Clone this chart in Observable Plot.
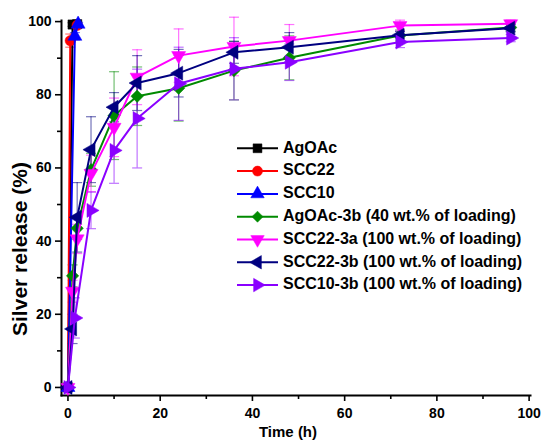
<!DOCTYPE html>
<html><head><meta charset="utf-8">
<script src="https://cdn.jsdelivr.net/npm/d3@7"></script>
<script src="https://cdn.jsdelivr.net/npm/@observablehq/plot@0.6"></script>
<style>
html,body{margin:0;padding:0;background:#fff;}
#chart{position:relative;width:543px;height:442px;}
</style></head><body><div id="chart"></div>
<script>
// ---- data ----
const seriesNames = ["AgOAc","SCC22","SCC10","AgOAc-3b (40 wt.% of loading)","SCC22-3a (100 wt.% of loading)","SCC22-3b (100 wt.% of loading)","SCC10-3b (100 wt.% of loading)"];
const seriesColors = ["#000000","#ff0000","#0000ff","#008a00","#ff00ff","#000080","#8a00ff"];

const tAgOAc = [0, 1, 2];
const vAgOAc = [0, 99.2, 99.3];
const eAgOAc = [0, 0.5, 0.5];

const tSCC22 = [0, 0.5, 2];
const vSCC22 = [0, 94.8, 99];
const eSCC22 = [0, 1.8, 0.5];

const tSCC10 = [0, 1.5, 2.2];
const vSCC10 = [0, 96, 99.3];
const eSCC10 = [0, 1, 0.5];

const tAgOAc3b = [0, 1, 2, 5, 10, 15, 24, 36, 48, 72, 96];
const vAgOAc3b = [0, 30.5, 43.5, 59.5, 74.3, 79.6, 81.8, 86.6, 90.1, 96.2, 98.4];
const eAgOAc3b = [0, 3, 3, 4.5, 12, 8, 9, 8, 6, 1.5, 1];

const tSCC22_3a = [0, 1, 2, 5, 10, 15, 24, 36, 48, 72, 96];
const vSCC22_3a = [0, 26.3, 40.6, 58.5, 71.1, 84.8, 90.7, 93.2, 94.8, 98.9, 99.4];
const eSCC22_3a = [0, 3, 4, 5, 8, 7.5, 7.3, 8, 4.4, 1.5, 1];

const tSCC22_3b = [0, 1, 2, 5, 10, 15, 24, 36, 48, 72, 96];
const vSCC22_3b = [0, 16, 46.5, 65, 76.6, 83.2, 85.9, 91.6, 93, 96.3, 98.2];
const eSCC22_3b = [0, 4, 9.5, 9, 4, 7.5, 6.5, 3, 4, 1, 1];

const tSCC10_3b = [0, 1.5, 5, 10, 15, 24, 36, 48, 72, 96];
const vSCC10_3b = [0, 19, 48.4, 64.8, 73.5, 83, 87.1, 88.9, 94.4, 95.5];
const eSCC10_3b = [0, 5.5, 5, 9, 13.5, 10, 8.5, 5, 1.5, 1];

const xMajorTicks = [0, 20, 40, 60, 80, 100];
const xMinorTicks = [10, 30, 50, 70, 90];
const yMajorTicks = [0, 20, 40, 60, 80, 100];
const yMinorTicks = [10, 30, 50, 70, 90];

// ---- symbols ----
const SQ3 = Math.sqrt(3);
function triangle(angleDeg) {
  const a = angleDeg * Math.PI / 180, c = Math.cos(a), s = Math.sin(a);
  return {draw(ctx, size) {
    const y = -Math.sqrt(size / (SQ3 * 3));
    const pts = [[0, y * 2], [-SQ3 * y, -y], [SQ3 * y, -y]].map(([px, py]) => [px * c - py * s, px * s + py * c]);
    ctx.moveTo(pts[0][0], pts[0][1]); ctx.lineTo(pts[1][0], pts[1][1]); ctx.lineTo(pts[2][0], pts[2][1]); ctx.closePath();
  }};
}
const capSymbol = {draw(ctx, size) { ctx.moveTo(-5, 0); ctx.lineTo(5, 0); }};
const seriesSymbols = [d3.symbolSquare, d3.symbolCircle, triangle(0), d3.symbolDiamond2, triangle(180), triangle(-90), triangle(90)];

const raw = [
  [tAgOAc, vAgOAc, eAgOAc], [tSCC22, vSCC22, eSCC22], [tSCC10, vSCC10, eSCC10],
  [tAgOAc3b, vAgOAc3b, eAgOAc3b], [tSCC22_3a, vSCC22_3a, eSCC22_3a],
  [tSCC22_3b, vSCC22_3b, eSCC22_3b], [tSCC10_3b, vSCC10_3b, eSCC10_3b]
];
const series = raw.map(([t, v, e], i) => t.map((tt, j) => ({t: tt, v: v[j], lo: v[j] - e[j], hi: v[j] + e[j], name: seriesNames[i]})));

const marks = [];
series.forEach((d, i) => {
  const col = seriesColors[i];
  const errD = d.filter(p => p.hi > p.lo);
  marks.push(Plot.ruleX(errD, {x: "t", y1: "lo", y2: "hi", stroke: col, strokeWidth: 1.2, strokeOpacity: 0.55}));
  marks.push(Plot.dot(errD, {x: "t", y: "lo", symbol: capSymbol, fill: "none", stroke: col, strokeWidth: 1.2, strokeOpacity: 0.55, r: 5}));
  marks.push(Plot.dot(errD, {x: "t", y: "hi", symbol: capSymbol, fill: "none", stroke: col, strokeWidth: 1.2, strokeOpacity: 0.55, r: 5}));
});
series.forEach((d, i) => {
  const col = seriesColors[i];
  marks.push(Plot.line(d, {x: "t", y: "v", stroke: col, strokeWidth: 2}));
  marks.push(Plot.dot(d, {x: "t", y: "v", symbol: seriesSymbols[i], fill: col, stroke: col, strokeWidth: 0.5, r: i === 3 ? 5.6 : 5.2}));
});

const plot = Plot.plot({
  width: 543, height: 442,
  marginLeft: 61, marginRight: 13, marginTop: 20, marginBottom: 47,
  style: {fontFamily: "'Liberation Sans', Arial, sans-serif", fontWeight: "bold", fontSize: "14px", background: "#fff", color: "#000"},
  x: {domain: [-1.4, 100.3]},
  y: {domain: [-2.2, 100.3]},
  marks: [
    Plot.frame({anchor: "left", strokeWidth: 2}),
    Plot.frame({anchor: "bottom", strokeWidth: 2}),
    Plot.axisX({ticks: xMajorTicks, tickSize: 6, tickPadding: 7, label: null, strokeWidth: 1.6, fontSize: 14}),
    Plot.axisX({ticks: xMinorTicks, tickSize: 4, text: null, label: null, strokeWidth: 1.6}),
    Plot.axisY({ticks: yMajorTicks, tickSize: 6, tickPadding: 4, label: null, strokeWidth: 1.6, fontSize: 14}),
    Plot.axisY({ticks: yMinorTicks, tickSize: 4, text: null, label: null, strokeWidth: 1.6}),
    ...marks
  ]
});
document.getElementById("chart").appendChild(plot);

// ---- axis titles and legend ----
const svg = d3.select(plot);
svg.append("text").attr("x", 288).attr("y", 433).attr("text-anchor", "middle").attr("dominant-baseline", "middle")
  .style("font-size", "15px").style("font-weight", "bold").text("Time (h)");
svg.append("text").attr("transform", "translate(21,249) rotate(-90)").attr("text-anchor", "middle").attr("dominant-baseline", "middle")
  .style("font-size", "21px").style("font-weight", "bold").text("Silver release (%)");

const lg = svg.append("g").attr("text-anchor", "start");
seriesNames.forEach((name, i) => {
  const y = 148.3 + i * 22.8;
  const col = seriesColors[i];
  lg.append("line").attr("x1", 237).attr("x2", 278).attr("y1", y).attr("y2", y).attr("stroke", col).attr("stroke-width", 2);
  lg.append("path").attr("transform", `translate(257.5,${y})`).attr("d", d3.symbol(seriesSymbols[i], 25 * Math.PI)()).attr("fill", col).attr("stroke", col).attr("stroke-width", 0.5);
  lg.append("text").attr("x", 283).attr("y", y).attr("text-anchor", "start").attr("dominant-baseline", "middle").style("font-size", "16px").style("font-weight", "bold").text(name);
});
</script>
</body></html>
